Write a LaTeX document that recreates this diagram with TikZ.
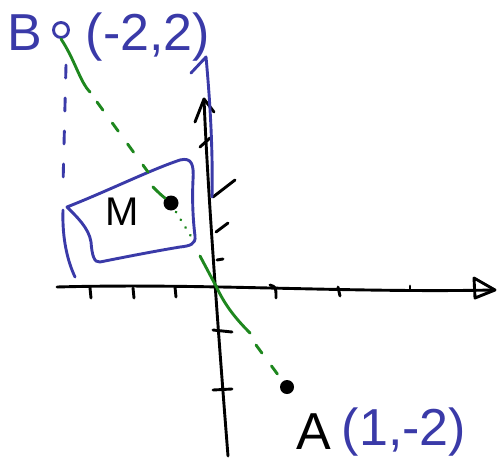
\documentclass[tikz,border=0pt]{standalone}
\usepackage{fontspec}
\setmainfont{Liberation Sans}
\definecolor{penblue}{RGB}{58,58,168}
\definecolor{pengreen}{RGB}{30,135,30}
\begin{document}
\begin{tikzpicture}[x=1pt,y=-1pt,line cap=round,line join=round,
  pen/.style={line width=2.9pt},
  blu/.style={pen,draw=penblue},
  grn/.style={pen,draw=pengreen},
  blk/.style={pen,draw=black},
  lbl/.style={inner sep=0pt,anchor=center},
  bigtxt/.style={font=\fontsize{52}{52}\selectfont}]
\useasboundingbox (0,0) rectangle (502,468);
% axes
\coordinate (xs) at (57,287);
\coordinate (xe) at (493,290);
\coordinate (ys) at (204,99);
\coordinate (ye) at (228,456);
\draw[blk] (xs) .. controls (200,283) and (350,293) .. (xe);
\draw[blk] (474,278) -- (495,290) -- (475,298) -- cycle;
\draw[blk] (ye) .. controls (222,380) and (208,200) .. (ys);
\draw[blk] (195,122) -- (ys) -- (214,112);
% y ticks
\draw[blk] (200,147) -- (210,138);
\draw[blk] (213,197) -- (235,180);
\draw[blk] (216,232) -- (228,223);
\draw[blk] (217,260) -- (223,259);
\draw[blk] (213,330) -- (232,332);
\draw[blk] (213,390) -- (232,389);
% x ticks
\draw[blk] (90,288) -- (91,298);
\draw[blk] (133,288) -- (134,298);
\draw[blk] (175,287) -- (176,297);
\draw[blk] (270,285) .. controls (276,287) .. (276,298);
\draw[blk] (338,287) -- (340,296);
\draw[blk] (410,286) -- (410,290);
% blue strokes
\draw[blu] (67,207) .. controls (110,190) and (150,170) .. (180,160)
  .. controls (192,157) and (194,165) .. (193,180)
  .. controls (192,200) and (193,220) .. (195,236)
  .. controls (196,244) and (190,246) .. (180,247)
  .. controls (150,252) and (120,258) .. (100,262)
  .. controls (94,263) and (92,255) .. (91,242)
  .. controls (89,228) and (76,216) .. (67,207) -- cycle;
\draw[blu] (63,210) .. controls (62,240) and (68,262) .. (75,277);
\draw[blu,dash pattern=on 13pt off 20pt] (66,65) -- (63,185);
\draw[blu] (191,73) -- (206,57) .. controls (210,100) and (213,150) .. (212,197);
% points
\node[blu,circle,minimum size=15pt,inner sep=0pt] (Bpt) at (61,30) {};
\node[fill=black,circle,minimum size=14pt,inner sep=0pt] (Apt) at (287,387) {};
\node[fill=black,circle,minimum size=15pt,inner sep=0pt] (Mpt) at (171,203) {};
% green line
\coordinate (g1) at (90,92);
\coordinate (g2) at (97,102);
\coordinate (g3) at (148,172);
\coordinate (g4) at (153,187);
\coordinate (g5) at (176,212);
\coordinate (g6) at (192,238);
\coordinate (g7) at (200,256);
\coordinate (O) at (217,288);
\coordinate (g8) at (250,333);
\coordinate (g9) at (256,345);
\draw[grn] (Bpt.south) .. controls (75,60) and (80,82) .. (g1);
\draw[grn,dash pattern=on 10pt off 16pt] (g2) -- (g3);
\draw[grn] (g4) .. controls (160,194) .. (Mpt);
\draw[pengreen,line width=2.9pt,dash pattern=on 0.1pt off 9pt] (g5) -- (g6);
\draw[grn] (g7) -- (O) .. controls (225,305) and (235,318) .. (g8);
\draw[grn,dash pattern=on 10pt off 16pt] (g9) -- (Apt);
% labels
\node[lbl,bigtxt,text=penblue] (Blab) at (25,33) {B};
\node[lbl,bigtxt,text=penblue] (Bco) at (148,37) {(-2,2)};
\node[lbl,bigtxt] (Alab) at (314,432) {A};
\node[lbl,bigtxt,text=penblue] (Aco) at (404,432) {(1,-2)};
\node[lbl,font=\fontsize{40}{40}\selectfont] (Mlab) at (122,212) {M};
\end{tikzpicture}
\end{document}
